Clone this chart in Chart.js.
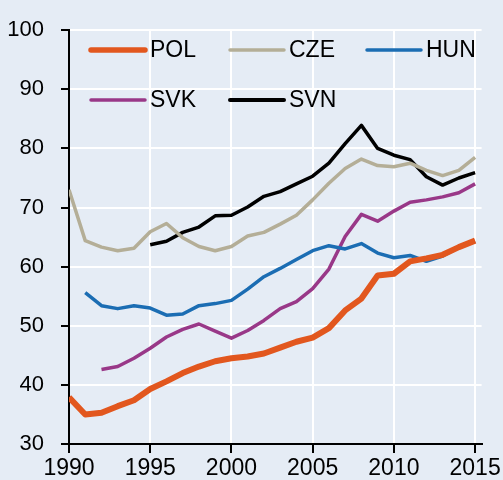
<!DOCTYPE html>
<html>
<head>
<meta charset="utf-8">
<script src="https://cdn.jsdelivr.net/npm/chart.js@4.4.1/dist/chart.umd.min.js"></script>
<style>
  html, body { margin: 0; padding: 0; background: #e5ecf5; }
  #wrap { width: 503px; height: 480px; }
</style>
</head>
<body>
<div id="wrap"><canvas id="lineChart" width="503" height="480"></canvas></div>
<script>
// Years on the x axis
const years = [1990, 1991, 1992, 1993, 1994, 1995, 1996, 1997, 1998, 1999,
               2000, 2001, 2002, 2003, 2004, 2005, 2006, 2007, 2008, 2009,
               2010, 2011, 2012, 2013, 2014, 2015];

// Series values (null = no data)
const pol = [37.9, 35.0, 35.3, 36.4, 37.4, 39.3, 40.6, 42.0, 43.1, 44.0,
             44.5, 44.8, 45.3, 46.3, 47.3, 48.0, 49.6, 52.6, 54.6, 58.5,
             58.8, 60.9, 61.4, 62.0, 63.3, 64.4];
const cze = [73.0, 64.4, 63.3, 62.7, 63.1, 65.9, 67.3, 64.9, 63.4, 62.7,
             63.4, 65.2, 65.8, 67.2, 68.7, 71.3, 74.1, 76.6, 78.2, 77.1,
             76.9, 77.5, 76.3, 75.4, 76.3, 78.5];
const hun = [null, 55.6, 53.4, 52.9, 53.4, 53.0, 51.8, 52.0, 53.4, 53.75,
             54.3, 56.2, 58.3, 59.7, 61.2, 62.7, 63.55, 63.0, 63.9, 62.3,
             61.5, 61.9, 60.9, 61.8, 63.3, 64.3];
const svk = [null, null, 42.6, 43.1, 44.5, 46.2, 48.1, 49.4, 50.3, 49.1,
             47.9, 49.2, 50.9, 52.9, 54.1, 56.3, 59.6, 65.1, 68.85, 67.7,
             69.4, 70.9, 71.3, 71.8, 72.5, 74.0];
const svn = [null, null, null, null, null, 63.7, 64.3, 65.8, 66.7, 68.6,
             68.7, 70.1, 71.9, 72.7, 74.0, 75.3, 77.5, 80.8, 83.9, 80.0,
             78.85, 78.1, 75.2, 73.8, 75.0, 75.9];

// Tick labels
const xTicks = [1990, 1995, 2000, 2005, 2010, 2015];
const yTicks = [30, 40, 50, 60, 70, 80, 90, 100];

const FONT = "'Liberation Sans', Arial, sans-serif";

const toPoints = values => values.map((v, i) => ({ x: years[i], y: v }));

// Background fill for the whole canvas
const background = {
    id: 'background',
    beforeDraw(chart) {
        const ctx = chart.ctx;
        ctx.save();
        ctx.fillStyle = '#e5ecf5';
        ctx.fillRect(0, 0, chart.width, chart.height);
        ctx.restore();
    }
};

// Legend laid out in a 3 column grid inside the plot
const gridLegend = {
    id: 'gridLegend',
    afterDraw(chart) {
        const ctx = chart.ctx;
        const slots = [
            { x: 91, y: 50 }, { x: 230, y: 50 }, { x: 367, y: 50 },
            { x: 91, y: 100 }, { x: 230, y: 100 }
        ];
        ctx.save();
        chart.data.datasets.forEach((ds, i) => {
            const s = slots[i];
            ctx.strokeStyle = ds.borderColor;
            ctx.lineWidth = ds.legendWidth;
            ctx.lineCap = 'round';
            ctx.beginPath();
            ctx.moveTo(s.x, s.y);
            ctx.lineTo(s.x + 54, s.y);
            ctx.stroke();
            ctx.fillStyle = '#000';
            ctx.font = '23px ' + FONT;
            ctx.textBaseline = 'middle';
            ctx.textAlign = 'left';
            ctx.fillText(ds.label, s.x + 59, s.y + 1);
        });
        ctx.restore();
    }
};

const ctx = document.getElementById('lineChart').getContext('2d');
new Chart(ctx, {
    type: 'line',
    data: {
        datasets: [
            { label: 'POL', data: toPoints(pol), borderColor: '#e2571e', borderWidth: 6, legendWidth: 5.5 },
            { label: 'CZE', data: toPoints(cze), borderColor: '#b4ae97', borderWidth: 3.5, legendWidth: 3.5 },
            { label: 'HUN', data: toPoints(hun), borderColor: '#1b6db3', borderWidth: 3.5, legendWidth: 3.5 },
            { label: 'SVK', data: toPoints(svk), borderColor: '#993888', borderWidth: 3.5, legendWidth: 3.5 },
            { label: 'SVN', data: toPoints(svn), borderColor: '#000000', borderWidth: 3.5, legendWidth: 4 }
        ]
    },
    options: {
        responsive: false,
        animation: false,
        layout: { padding: { top: 25, right: 20, left: 0, bottom: 0 } },
        elements: {
            point: { radius: 0 },
            line: { tension: 0, borderJoinStyle: 'round', fill: false }
        },
        plugins: {
            legend: { display: false },
            tooltip: { enabled: false }
        },
        scales: {
            x: {
                type: 'linear',
                min: 1990,
                max: 2015.4,
                afterBuildTicks: scale => { scale.ticks = xTicks.map(v => ({ value: v })); },
                afterFit: scale => { scale.height = 36; },
                grid: { color: '#ffffff', lineWidth: 2, tickColor: '#000', tickLength: 9 },
                border: { color: '#000', width: 2 },
                ticks: {
                    color: '#000',
                    padding: 2,
                    maxRotation: 0,
                    font: { family: FONT, size: 23 },
                    callback: v => String(v)
                }
            },
            y: {
                min: 30,
                max: 100,
                afterBuildTicks: scale => { scale.ticks = yTicks.map(v => ({ value: v })); },
                afterFit: scale => { scale.width = 69; },
                grid: { color: '#ffffff', lineWidth: 2, tickColor: '#000', tickLength: 8 },
                border: { color: '#000', width: 2 },
                ticks: {
                    color: '#000',
                    padding: 17,
                    font: { family: FONT, size: 22 }
                }
            }
        }
    },
    plugins: [background, gridLegend]
});
</script>
</body>
</html>
